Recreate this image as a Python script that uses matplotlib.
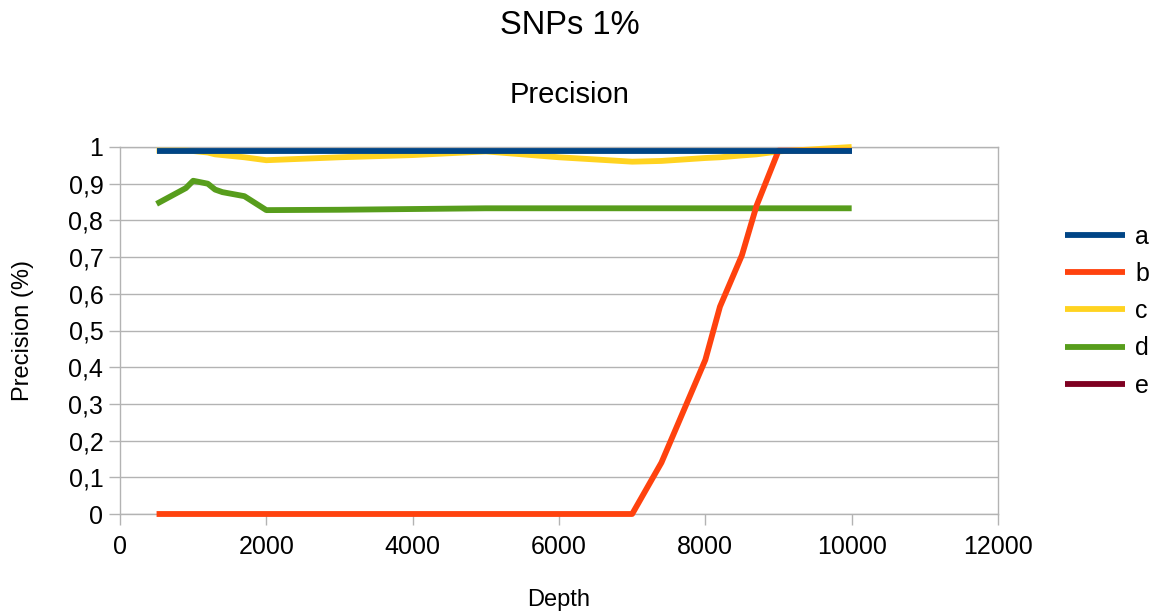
import matplotlib.pyplot as plt
from matplotlib.ticker import FuncFormatter, MultipleLocator

plt.rcParams["font.family"] = ["Liberation Sans", "DejaVu Sans"]

depth = [500, 900, 1000, 1200, 1300, 1400, 1700, 2000, 3000, 4000, 5000,
         6000, 7000, 7400, 8000, 8200, 8500, 8700, 9000, 10000]

a = [0.99] * len(depth)
b = [0, 0, 0, 0, 0, 0, 0, 0, 0, 0, 0, 0, 0,
     0.14, 0.42, 0.565, 0.705, 0.84, 0.99, 0.99]
c = [0.99, 0.99, 0.989, 0.985, 0.98, 0.978, 0.972, 0.964, 0.972, 0.978, 0.988,
     0.972, 0.960, 0.962, 0.970, 0.972, 0.977, 0.980, 0.988, 1.0]
d = [0.845, 0.888, 0.908, 0.900, 0.884, 0.877, 0.866, 0.828, 0.829, 0.831, 0.833,
     0.833, 0.833, 0.833, 0.833, 0.833, 0.833, 0.833, 0.833, 0.833]
e = []

series = [("a", a, "#004586"), ("b", b, "#ff420e"), ("c", c, "#ffd320"),
          ("d", d, "#579d1c"), ("e", e, "#7e0021")]

fig = plt.figure(figsize=(11.58, 6.16), dpi=100)
ax = fig.add_axes([120 / 1158, 1 - 514 / 616, 878 / 1158, 367 / 616])

# first series on top, as in the original chart
for i, (name, vals, col) in enumerate(series):
    ax.plot(depth[:len(vals)], vals, color=col, linewidth=4.2, label=name,
            solid_capstyle="butt", clip_on=False, zorder=10 - i)

grid_col = "#b3b3b3"
ax.set_xlim(0, 12000)
ax.set_ylim(0, 1)
ax.xaxis.set_major_locator(MultipleLocator(2000))
ax.yaxis.set_major_locator(MultipleLocator(0.1))
ax.yaxis.set_major_formatter(FuncFormatter(
    lambda v, p: ("%g" % round(v, 1)).replace(".", ",")))
ax.grid(axis="y", color=grid_col, linewidth=1)
ax.set_axisbelow(True)
for s in ax.spines.values():
    s.set_color(grid_col)
    s.set_linewidth(1)
ax.tick_params(axis="both", direction="out", length=8, width=1,
               color=grid_col, labelsize=18)
ax.tick_params(axis="y", pad=4)
ax.tick_params(axis="x", pad=7)

ax.set_xlabel("Depth", fontsize=17, labelpad=21.5)
ax.set_ylabel("Precision (%)", fontsize=17, labelpad=25)

fig.text(570 / 1158, 1 - 25 / 616, "SNPs 1%", ha="center", va="center", fontsize=23.5)
fig.text(570 / 1158, 1 - 95 / 616, "Precision", ha="center", va="center", fontsize=21)

ax.legend(loc="center left", bbox_to_anchor=(1.065, 0.553), frameon=False,
          fontsize=18, handlelength=2.4, labelspacing=0.53, handletextpad=0.4,
          borderaxespad=0)

fig.savefig("out.png", dpi=100)
